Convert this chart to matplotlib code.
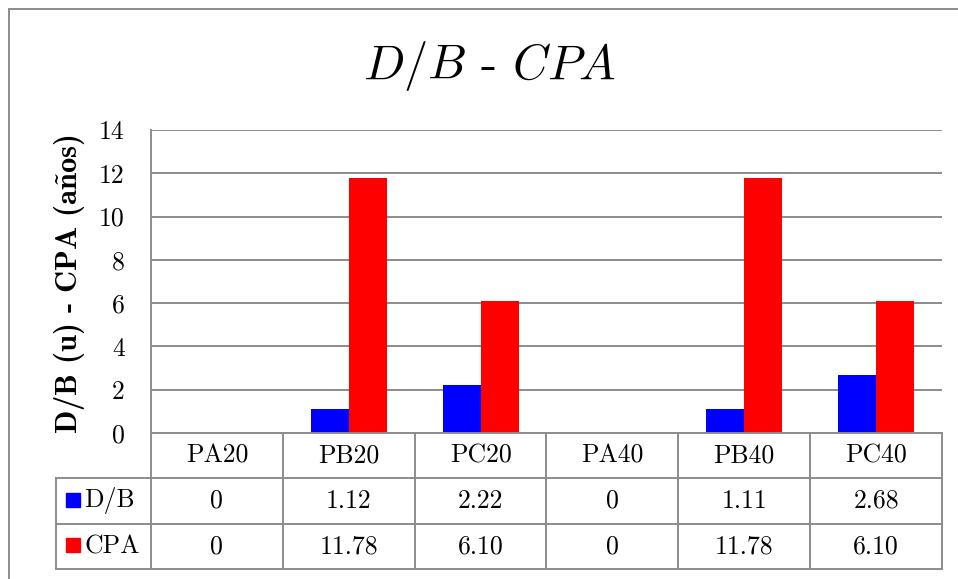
import matplotlib
matplotlib.use("Agg")
import matplotlib.pyplot as plt
from matplotlib.patches import Rectangle
from matplotlib.lines import Line2D
from matplotlib.transforms import blended_transform_factory
import numpy as np

# Data
categories = ["PA20", "PB20", "PC20", "PA40", "PB40", "PC40"]
db_values = [0, 1.12, 2.22, 0, 1.11, 2.68]
cpa_values = [0, 11.78, 6.10, 0, 11.78, 6.10]
series_names = ["D/B", "CPA"]
y_ticks = [0, 2, 4, 6, 8, 10, 12, 14]

plt.rcParams["mathtext.fontset"] = "cm"
plt.rcParams["font.family"] = ["cmr10", "DejaVu Serif"]
plt.rcParams["axes.unicode_minus"] = False

BLUE = "#0000ff"
RED = "#ff0000"
GRAY = "#8c8c8c"
FS = 18.5

W, H = 958, 579
fig = plt.figure(figsize=(W / 100, H / 100), dpi=100)
L, R, T, B = 151, 942, 130, 433
ax = fig.add_axes([L / W, 1 - B / H, (R - L) / W, (B - T) / H])

x = np.arange(len(categories))
bw = 0.288
ax.bar(x - bw / 2, db_values, bw, color=BLUE, zorder=3)
ax.bar(x + bw / 2, cpa_values, bw, color=RED, zorder=3)

ax.set_xlim(-0.5, len(categories) - 0.5)
ax.set_ylim(0, 14)
ax.set_yticks(y_ticks)
ax.set_yticklabels([str(t) for t in y_ticks])
ax.set_xticks([])
ax.yaxis.grid(True, color=GRAY, lw=1.4)
ax.set_axisbelow(True)
for s in ["top", "right", "bottom"]:
    ax.spines[s].set_visible(False)
ax.spines["left"].set_color(GRAY)
ax.spines["left"].set_linewidth(1.4)
ax.tick_params(axis="y", length=0, pad=19, labelsize=FS)

# Data table below the plot
tr = blended_transform_factory(ax.transData, ax.transAxes)
px_x = (R - L) / len(categories)        # pixels per category
px_y = (B - T)                          # pixels per axes height
row_h = 45.3 / px_y
x_left = -0.5
x_right = len(categories) - 0.5
x_legend = -0.5 - (L - 56) / px_x

def hline(x0, x1, y):
    ax.add_line(Line2D([x0, x1], [y, y], transform=tr, color=GRAY, lw=1.4,
                       clip_on=False, zorder=4))

def vline(xv, y0, y1):
    ax.add_line(Line2D([xv, xv], [y0, y1], transform=tr, color=GRAY, lw=1.4,
                       clip_on=False, zorder=4))

hline(x_left, x_right, 0)
hline(x_legend, x_right, -row_h)
hline(x_legend, x_right, -2 * row_h)
hline(x_legend, x_right, -3 * row_h)
vline(x_legend, -row_h, -3 * row_h)
for i in range(len(categories) + 1):
    vline(i - 0.5, 0, -3 * row_h)

for i, cat in enumerate(categories):
    ax.text(i, -0.5 * row_h, cat, transform=tr, ha="center", va="center",
            fontsize=FS)

def fmt(v):
    return "0" if v == 0 else f"{v:.2f}"

rows = [(series_names[0], db_values, BLUE), (series_names[1], cpa_values, RED)]
sw = 14 / px_x
sh = 14 / px_y
for r, (name, vals, col) in enumerate(rows):
    yc = -(r + 1.5) * row_h
    for i, v in enumerate(vals):
        ax.text(i, yc, fmt(v), transform=tr, ha="center", va="center",
                fontsize=FS)
    xs = -0.5 - (L - 66) / px_x
    ax.add_patch(Rectangle((xs, yc - sh / 2 + 0.004), sw, sh, transform=tr,
                           color=col, clip_on=False, zorder=4))
    ax.text(-0.5 - (L - 84) / px_x, yc, name, transform=tr, ha="left",
            va="center", fontsize=FS)

# Title and axis label
fig.text(490 / W, 1 - 66 / H, r"$D/B$ - $CPA$", ha="center", va="center",
         fontsize=35)
fig.text(70 / W, 1 - 284 / H, "D/B (u) - CPA (a" + r"$\mathbf{\tilde{n}}$" + "os)",
         rotation=90, ha="center", va="center", fontsize=22,
         family=["cmb10", "DejaVu Serif"])

# Chart border
fig.patches.append(Rectangle((9 / W, -0.2), 1.5, 1 - 9 / H + 0.2,
                             transform=fig.transFigure, fill=False,
                             ec=GRAY, lw=1.4))

fig.savefig("out.png", dpi=100)
